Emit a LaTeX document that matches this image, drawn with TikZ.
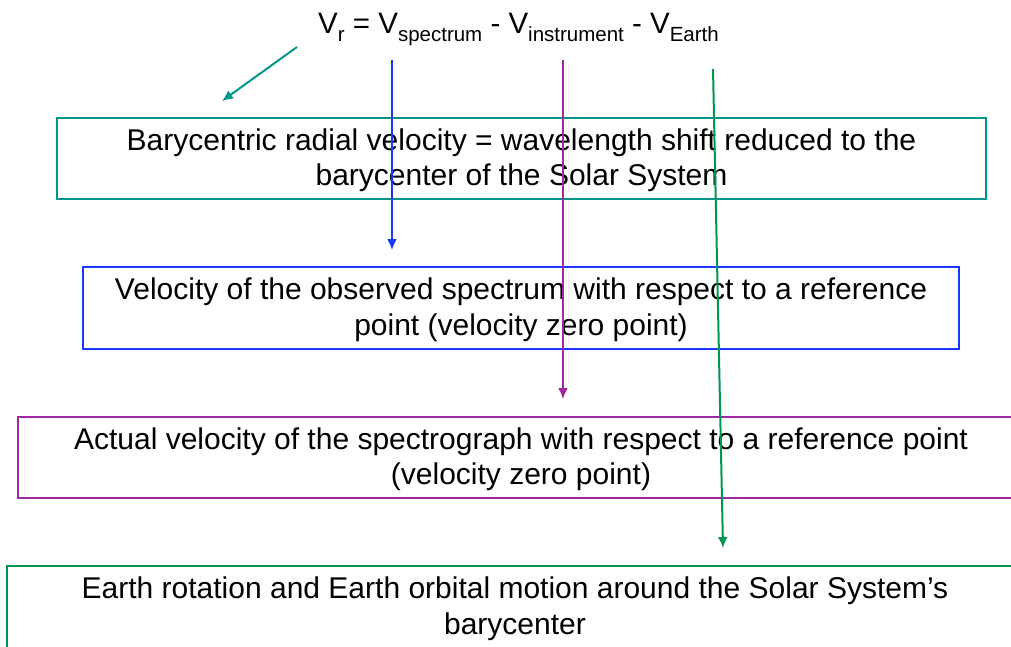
\documentclass[tikz,border=0pt]{standalone}
\usepackage{fontspec}
\setmainfont{Liberation Sans}
\usetikzlibrary{arrows.meta}
\definecolor{cteal}{RGB}{0,150,140}
\definecolor{cblue}{RGB}{25,55,255}
\definecolor{cpurple}{RGB}{160,40,165}
\definecolor{cgreen}{RGB}{0,150,80}
\newcommand\lsub[1]{\raisebox{-8.5pt}{\fontsize{20.5}{20.5}\selectfont #1}}
\tikzset{
  box/.style={draw, line width=2.6pt, rectangle, inner sep=0pt},
  boxtext/.style={align=center, inner sep=0pt, font=\fontsize{30}{35.5}\selectfont, text=black},
  arr/.style={line width=2pt, -{Latex[length=11pt,width=10pt]}}
}
\begin{document}
\begin{tikzpicture}[x=1pt,y=-1pt]
\useasboundingbox (0,0) rectangle (1011,646);
\clip (0,0) rectangle (1011,646);

\node[anchor=base, font=\fontsize{29.5}{30}\selectfont, inner sep=0pt] (formula) at (518.5,33)
  {V\lsub{r} = V\lsub{spectrum} - V\lsub{instrument} - V\lsub{Earth}};

\node[box, draw=cteal, minimum width=929pt, minimum height=81pt] (bary) at (521.5,158.5) {};
\node[boxtext] (baryT) at ([yshift=-1.5pt]bary.center)
  {Barycentric radial velocity = wavelength shift reduced to the\\barycenter of the Solar System};
\node[box, draw=cblue, minimum width=876pt, minimum height=82pt] (spec) at (521,308) {};
\node[boxtext] (specT) at ([yshift=-1.5pt]spec.center)
  {Velocity of the observed spectrum with respect to a reference\\point (velocity zero point)};
\node[box, draw=cpurple, minimum width=1006pt, minimum height=81pt] (instr) at (521,457.5) {};
\node[boxtext] (instrT) at ([yshift=-1.5pt]instr.center)
  {Actual velocity of the spectrograph with respect to a reference point\\(velocity zero point)};
\node[box, draw=cgreen, minimum width=1028pt, minimum height=82pt] (earth) at (521,607) {};
\node[boxtext] (earthT) at ([xshift=-6pt,yshift=-1.5pt]earth.center)
  {Earth rotation and Earth orbital motion around the Solar System’s\\barycenter};

\coordinate (tA) at (297,47);  \coordinate (hA) at (222,101);
\coordinate (tB) at (392,60);  \coordinate (hB) at (392,250);
\coordinate (tC) at (563,60);  \coordinate (hC) at (563,399);
\coordinate (tD) at (713,69);  \coordinate (hD) at (723,548);

\draw[arr, cteal] (tA) -- (hA);
\draw[arr, cblue] (tB) -- (hB);
\draw[arr, cpurple] (tC) -- (hC);
\draw[arr, cgreen] (tD) -- (hD);
\end{tikzpicture}
\end{document}
